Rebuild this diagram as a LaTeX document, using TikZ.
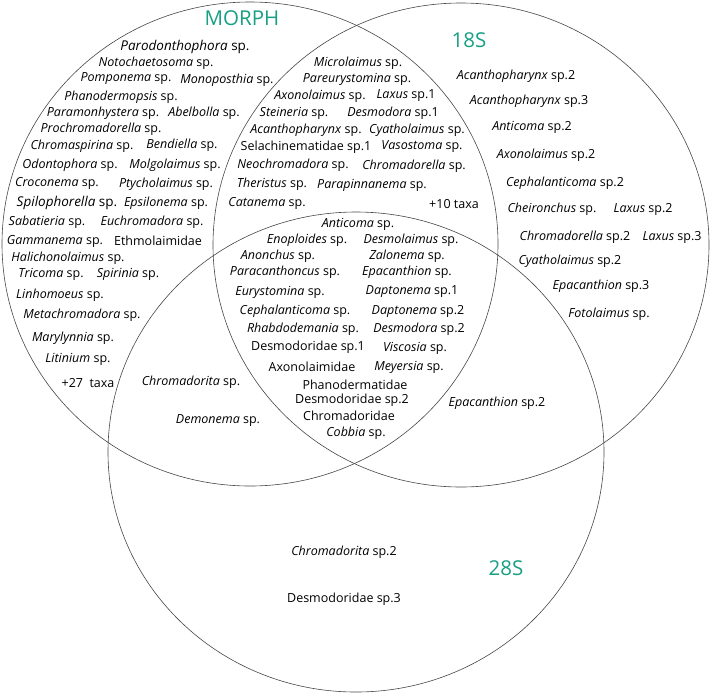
\documentclass[tikz,border=0pt]{standalone}
\usepackage{fontspec}
\setmainfont{Open Sans}
\definecolor{setteal}{RGB}{24,160,132}
\definecolor{ringgray}{RGB}{70,70,70}
\begin{document}
\begin{tikzpicture}[x=1pt,y=-1pt,
  tx/.style={inner sep=0pt, font=\fontsize{12.5}{14}\selectfont, text=black},
  big/.style={inner sep=0pt, font=\fontsize{13.5}{15}\selectfont, text=black},
  setlabel/.style={inner sep=0pt, font=\fontsize{20.5}{22}\selectfont, text=setteal},
  ring/.style={draw=ringgray, line width=0.6pt}]
\useasboundingbox (0,0) rectangle (711,694);
% sets
\draw[ring] (250,244) ellipse [x radius=248pt, y radius=242pt];
\draw[ring] (461,245) ellipse [x radius=248pt, y radius=242pt];
\draw[ring] (356,452) ellipse [x radius=248pt, y radius=240pt];
% set labels
\node[setlabel] (lm) at (242,18) {MORPH};
\node[setlabel] (l18) at (469,40) {18S};
\node[setlabel] (l28) at (506,568) {28S};
% MORPH only
\node[big] (m1) at (185,47) {\textit{Parodonthophora} sp.};
\node[tx] (m2) at (156,63) {\textit{Notochaetosoma} sp.};
\node[tx] (m3) at (126,79) {\textit{Pomponema} sp.};
\node[tx] (m4) at (227,80) {\textit{Monoposthia} sp.};
\node[tx] (m5) at (121,97) {\textit{Phanodermopsis} sp.};
\node[tx] (m6) at (103,113) {\textit{Paramonhystera} sp.};
\node[tx] (m7) at (204,113) {\textit{Abelbolla} sp.};
\node[tx] (m8) at (101,129) {\textit{Prochromadorella} sp.};
\node[tx] (m9) at (82,146) {\textit{Chromaspirina} sp.};
\node[tx] (m10) at (182,145) {\textit{Bendiella} sp.};
\node[tx] (m11) at (70,165) {\textit{Odontophora} sp.};
\node[tx] (m12) at (175,165) {\textit{Molgolaimus} sp.};
\node[tx] (m13) at (57,183) {\textit{Croconema} sp.};
\node[tx] (m14) at (166,184) {\textit{Ptycholaimus} sp.};
\node[big] (m15) at (67,203) {\textit{Spilophorella} sp.};
\node[tx] (m16) at (166,203) {\textit{Epsilonema} sp.};
\node[tx] (m17) at (47,222) {\textit{Sabatieria} sp.};
\node[tx] (m18) at (152,222) {\textit{Euchromadora} sp.};
\node[tx] (m19) at (55,241) {\textit{Gammanema} sp.};
\node[tx] (m20) at (158,241) {Ethmolaimidae};
\node[tx] (m21) at (68,258) {\textit{Halichonolaimus} sp.};
\node[tx] (m22) at (51,274) {\textit{Tricoma} sp.};
\node[tx] (m23) at (128,274) {\textit{Spirinia} sp.};
\node[tx] (m24) at (60,295) {\textit{Linhomoeus} sp.};
\node[tx] (m25) at (82,315) {\textit{Metachromadora} sp.};
\node[tx] (m26) at (73,338) {\textit{Marylynnia} sp.};
\node[tx] (m27) at (78,359) {\textit{Litinium} sp.};
\node[tx] (m28) at (88,383) {+27\ \ taxa};
% MORPH and 28S
\node[tx] (mt1) at (191,382) {\textit{Chromadorita} sp.};
\node[tx] (mt2) at (218,421) {\textit{Demonema} sp.};
% MORPH and 18S
\node[tx] (ms1) at (358,63) {\textit{Microlaimus} sp.};
\node[tx] (ms2) at (357,79) {\textit{Pareurystomina} sp.};
\node[tx] (ms3) at (320,96) {\textit{Axonolaimus} sp.};
\node[tx] (ms4) at (406,96) {\textit{Laxus} sp.1};
\node[tx] (ms5) at (294,113) {\textit{Steineria} sp.};
\node[tx] (ms6) at (393,113) {\textit{Desmodora} sp.1};
\node[tx] (ms7) at (306,130) {\textit{Acanthopharynx} sp.};
\node[tx] (ms8) at (417,130) {\textit{Cyatholaimus} sp.};
\node[tx] (ms9) at (306,147) {Selachinematidae sp.1};
\node[tx] (ms10) at (422,147) {\textit{Vasostoma} sp.};
\node[tx] (ms11) at (293,165) {\textit{Neochromadora} sp.};
\node[tx] (ms12) at (414,166) {\textit{Chromadorella} sp.};
\node[tx] (ms13) at (272,184) {\textit{Theristus} sp.};
\node[tx] (ms14) at (372,185) {\textit{Parapinnanema} sp.};
\node[tx] (ms15) at (267,203) {\textit{Catanema} sp.};
\node[tx] (ms16) at (454,204) {+10 taxa};
% 18S only
\node[tx] (s1) at (516,76) {\textit{Acanthopharynx} sp.2};
\node[tx] (s2) at (529,101) {\textit{Acanthopharynx} sp.3};
\node[tx] (s3) at (532,127) {\textit{Anticoma} sp.2};
\node[tx] (s4) at (546,155) {\textit{Axonolaimus} sp.2};
\node[tx] (s5) at (565,183) {\textit{Cephalanticoma} sp.2};
\node[tx] (s6) at (552,209) {\textit{Cheironchus} sp.};
\node[tx] (s7) at (643,209) {\textit{Laxus} sp.2};
\node[tx] (s8) at (575,237) {\textit{Chromadorella} sp.2};
\node[tx] (s9) at (672,237) {\textit{Laxus} sp.3};
\node[tx] (s10) at (570,261) {\textit{Cyatholaimus} sp.2};
\node[tx] (s11) at (601,286) {\textit{Epacanthion} sp.3};
\node[tx] (s12) at (609,314) {\textit{Fotolaimus} sp.};
% 18S and 28S
\node[tx] (st1) at (497,403) {\textit{Epacanthion} sp.2};
% all three
\node[tx] (a1) at (358,224) {\textit{Anticoma} sp.};
\node[tx] (a2) at (307,240) {\textit{Enoploides} sp.};
\node[tx] (a3) at (411,240) {\textit{Desmolaimus} sp.};
\node[tx] (a4) at (278,256) {\textit{Anonchus} sp.};
\node[tx] (a5) at (407,256) {\textit{Zalonema} sp.};
\node[tx] (a6) at (285,272) {\textit{Paracanthoncus} sp.};
\node[tx] (a7) at (407,272) {\textit{Epacanthion} sp.};
\node[tx] (a8) at (280,292) {\textit{Eurystomina} sp.};
\node[tx] (a9) at (412,292) {\textit{Daptonema} sp.1};
\node[tx] (a10) at (295,311) {\textit{Cephalanticoma} sp.};
\node[tx] (a11) at (418,311) {\textit{Daptonema} sp.2};
\node[tx] (a12) at (303,329) {\textit{Rhabdodemania} sp.};
\node[tx] (a13) at (419,329) {\textit{Desmodora} sp.2};
\node[tx] (a14) at (308,347) {Desmodoridae sp.1};
\node[tx] (a15) at (415,348) {\textit{Viscosia} sp.};
\node[tx] (a16) at (312,367) {Axonolaimidae};
\node[tx] (a17) at (409,367) {\textit{Meyersia} sp.};
\node[tx] (a18) at (355,385) {Phanodermatidae};
\node[tx] (a19) at (352,400) {Desmodoridae sp.2};
\node[tx] (a20) at (349,416) {Chromadoridae};
\node[tx] (a21) at (356,433) {\textit{Cobbia} sp.};
% 28S only
\node[tx] (t1) at (344,552) {\textit{Chromadorita} sp.2};
\node[tx] (t2) at (344,599) {Desmodoridae sp.3};
\end{tikzpicture}
\end{document}
